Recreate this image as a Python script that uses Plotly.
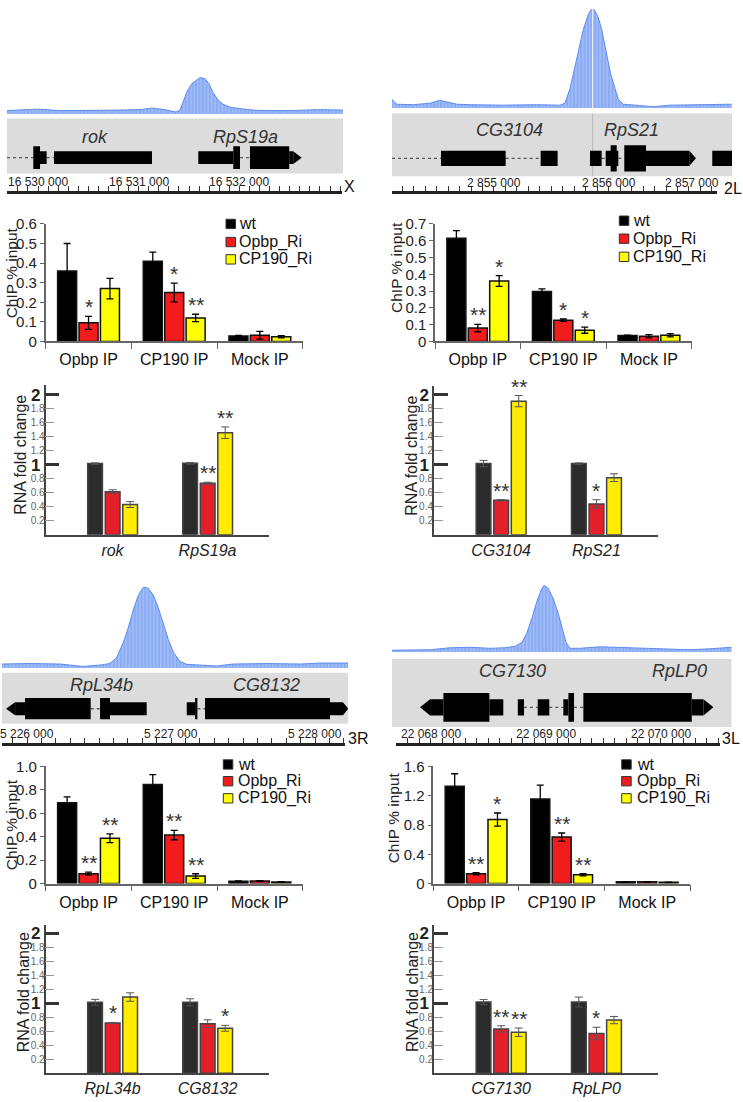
import plotly.graph_objects as go

W, H = 743, 1102
FONT = "Liberation Sans, Arial, Helvetica, sans-serif"

# ======================= DATA =======================
series_names = ["wt", "Opbp_Ri", "CP190_Ri"]
chip_categories = ["Opbp IP", "CP190 IP", "Mock IP"]
rna_major_ticks = [1, 2]
rna_minor_ticks = [0.2, 0.4, 0.6, 0.8, 1.2, 1.4, 1.6, 1.8]

# ---------- panel 1 : chrX, rok / RpS19a ----------
p1_chrom = "X"
p1_region = [16529692, 16533029]
p1_ruler_ticks = [16530000, 16531000, 16532000]
p1_signal_pos = [16529692, 16529821, 16530000, 16530218, 16530417, 16530616, 16530814, 16531013,
                 16531132, 16531261, 16531370, 16531410, 16531430, 16531480, 16531529, 16531579,
                 16531609, 16531658, 16531698, 16531738, 16531787, 16531837, 16531907, 16532006,
                 16532135, 16532304, 16532502, 16532800, 16533029]
p1_signal_val = [3.5, 4, 5, 3.5, 3.5, 3.5, 4, 4.5,
                 6, 4.5, 2, 4, 10, 23, 31, 35,
                 37, 36, 31, 22, 14.5, 10, 7, 5.5,
                 4, 3.5, 3.5, 4.5, 4]
p1_genes = ["rok", "RpS19a"]
p1_gene_label_pos = [16530566, 16532056]
p1_introns = [(16529692, 16529953), (16530086, 16530159), (16532006, 16532105)]
p1_utr = [(16530020, 16530086), (16530159, 16531132), (16531592, 16531939), (16532495, 16532535)]
p1_cds = [(16529953, 16530020), (16531939, 16532006), (16532105, 16532495)]
p1_arrows = [(16532535, 16532619)]

p1_chip_wt = [0.36, 0.41, 0.028]
p1_chip_wt_err = [0.14, 0.046, 0.003]
p1_chip_opbp = [0.095, 0.25, 0.032]
p1_chip_opbp_err = [0.033, 0.048, 0.02]
p1_chip_cp190 = [0.27, 0.12, 0.024]
p1_chip_cp190_err = [0.052, 0.019, 0.006]
p1_chip_opbp_sig = ["*", "*", ""]
p1_chip_cp190_sig = ["", "**", ""]

p1_rna_wt = [1.016, 1.02]
p1_rna_wt_err = [0.01, 0.012]
p1_rna_opbp = [0.614, 0.735]
p1_rna_opbp_err = [0.028, 0.015]
p1_rna_cp190 = [0.431, 1.457]
p1_rna_cp190_err = [0.042, 0.082]
p1_rna_opbp_sig = ["", "**"]
p1_rna_cp190_sig = ["", "**"]

# ---------- panel 2 : chr2L, CG3104 / RpS21 ----------
p2_chrom = "2L"
p2_region = [2854111, 2857075]
p2_ruler_ticks = [2855000, 2856000, 2857000]
p2_signal_pos = [2854111, 2854152, 2854296, 2854442, 2854529, 2854616, 2854675, 2854791,
                 2855081, 2855372, 2855575, 2855619, 2855663, 2855721, 2855779, 2855822,
                 2855840, 2855860, 2855880, 2855909, 2855939, 2855968, 2855988, 2856017,
                 2856055, 2856084, 2856127, 2856244, 2856389, 2856534, 2856825, 2857072]
p2_signal_val = [9, 4, 3.5, 5, 8, 6, 4, 3.5,
                 3, 3.5, 3, 5, 20, 50, 80, 95,
                 99, 101, 99, 92, 80, 63, 50, 35,
                 20, 9, 4, 3, 1.5, 3, 3.5, 4]
p2_genes = ["CG3104", "RpS21"]
p2_gene_label_pos = [2855139, 2856200]
p2_introns = [(2854111, 2854538), (2855102, 2855407), (2855939, 2855974), (2856084, 2856136)]
p2_utr = [(2854538, 2855102), (2855407, 2855555), (2855837, 2855939), (2855974, 2856084),
          (2856325, 2856703), (2856903, 2857075)]
p2_cds = [(2856017, 2856070), (2856136, 2856325)]
p2_arrows = [(2856703, 2856761)]
p2_cursor = 2855860

p2_chip_wt = [0.615, 0.297, 0.035]
p2_chip_wt_err = [0.045, 0.016, 0.003]
p2_chip_opbp = [0.08, 0.127, 0.031]
p2_chip_opbp_err = [0.022, 0.007, 0.01]
p2_chip_cp190 = [0.36, 0.067, 0.037]
p2_chip_cp190_err = [0.032, 0.018, 0.01]
p2_chip_opbp_sig = ["**", "*", ""]
p2_chip_cp190_sig = ["*", "*", ""]

p2_rna_wt = [1.016, 1.016]
p2_rna_wt_err = [0.045, 0.01]
p2_rna_opbp = [0.492, 0.44]
p2_rna_opbp_err = [0.01, 0.06]
p2_rna_cp190 = [1.907, 0.815]
p2_rna_cp190_err = [0.08, 0.055]
p2_rna_opbp_sig = ["**", "*"]
p2_rna_cp190_sig = ["**", ""]

# ---------- panel 3 : chr3R, RpL34b / CG8132 ----------
p3_chrom = "3R"
p3_region = [5225824, 5228231]
p3_ruler_ticks = [5226000, 5227000, 5228000]
p3_signal_pos = [5225824, 5226021, 5226229, 5226389, 5226507, 5226576, 5226623, 5226669,
                 5226703, 5226738, 5226773, 5226808, 5226842, 5226877, 5226912, 5226946,
                 5226981, 5227016, 5227062, 5227109, 5227201, 5227319, 5227430, 5227667,
                 5227896, 5228035, 5228229]
p3_signal_val = [4, 4.5, 4, 1.5, 3, 4.5, 11, 26,
                 41, 59, 74, 82, 81, 74, 61, 46,
                 29, 16, 6.7, 3.7, 3, 2, 4, 4.5,
                 4, 5, 5]
p3_genes = ["RpL34b", "CG8132"]
p3_gene_label_pos = [5226514, 5227664]
p3_introns = [(5226442, 5226507), (5227183, 5227236)]
p3_utr = [(5225917, 5225986), (5226576, 5226831), (5227109, 5227167), (5228104, 5228194)]
p3_cds = [(5225986, 5226442), (5226507, 5226576), (5227167, 5227183), (5227236, 5228104)]
p3_arrows = [(5225917, 5225854), (5228194, 5228231)]

p3_chip_wt = [0.69, 0.845, 0.02]
p3_chip_wt_err = [0.05, 0.085, 0.003]
p3_chip_opbp = [0.085, 0.414, 0.023]
p3_chip_opbp_err = [0.013, 0.04, 0.003]
p3_chip_cp190 = [0.387, 0.064, 0.014]
p3_chip_cp190_err = [0.038, 0.02, 0.003]
p3_chip_opbp_sig = ["**", "**", ""]
p3_chip_cp190_sig = ["**", "**", ""]

p3_rna_wt = [1.014, 1.014]
p3_rna_wt_err = [0.042, 0.05]
p3_rna_opbp = [0.718, 0.709]
p3_rna_opbp_err = [0.008, 0.055]
p3_rna_cp190 = [1.089, 0.643]
p3_rna_cp190_err = [0.06, 0.042]
p3_rna_opbp_sig = ["*", ""]
p3_rna_cp190_sig = ["", "*"]

# ---------- panel 4 : chr3L, CG7130 / RpLP0 ----------
p4_chrom = "3L"
p4_region = [22067663, 22070617]
p4_ruler_ticks = [22068000, 22069000, 22070000]
p4_signal_pos = [22067663, 22067820, 22067994, 22068168, 22068342, 22068516, 22068646, 22068733,
                 22068794, 22068837, 22068881, 22068924, 22068959, 22068985, 22069020, 22069063,
                 22069107, 22069142, 22069176, 22069211, 22069298, 22069472, 22069646, 22069907,
                 22070081, 22070255, 22070429, 22070617]
p4_signal_val = [2, 2, 2.5, 4.5, 5, 4, 4.5, 6,
                 10, 20, 35, 52, 63, 68, 65, 55,
                 40, 25, 10, 4, 4, 5.5, 5, 4,
                 3, 2.5, 3.5, 5]
p4_genes = ["CG7130", "RpLP0"]
p4_gene_label_pos = [22068713, 22070162]
p4_introns = [(22068811, 22068930), (22069031, 22069153), (22069246, 22069327)]
p4_utr = [(22067994, 22068110), (22068510, 22068631), (22068757, 22068811), (22068930, 22069031),
          (22069153, 22069197), (22070270, 22070371)]
p4_cds = [(22068110, 22068510), (22069197, 22069246), (22069327, 22070270)]
p4_arrows = [(22067994, 22067907), (22070371, 22070458)]

p4_chip_wt = [1.33, 1.156, 0.025]
p4_chip_wt_err = [0.17, 0.19, 0.003]
p4_chip_opbp = [0.134, 0.636, 0.025]
p4_chip_opbp_err = [0.015, 0.055, 0.003]
p4_chip_cp190 = [0.874, 0.121, 0.018]
p4_chip_cp190_err = [0.09, 0.015, 0.003]
p4_chip_opbp_sig = ["**", "**", ""]
p4_chip_cp190_sig = ["*", "**", ""]

p4_rna_wt = [1.018, 1.018]
p4_rna_wt_err = [0.035, 0.07]
p4_rna_opbp = [0.634, 0.568]
p4_rna_opbp_err = [0.045, 0.09]
p4_rna_cp190 = [0.587, 0.76]
p4_rna_cp190_err = [0.06, 0.052]
p4_rna_opbp_sig = ["**", "*"]
p4_rna_cp190_sig = ["**", ""]

# ======================= STYLE / LAYOUT HELPERS =======================
CHIP_COLORS = ["#000000", "#f21c1c", "#ffff00"]
RNA_COLORS = ["#2b2b2b", "#e3202a", "#ffec00"]
CHIP_W, CHIP_OFF = 0.222, [-0.361, -0.111, 0.139]
RNA_W, RNA_OFF = 0.155, [-0.261, -0.076, 0.108]
AX = "#666666"

fig = go.Figure()
layout = dict(width=W, height=H, margin=dict(l=0, r=0, t=0, b=0, pad=0),
              paper_bgcolor="white", plot_bgcolor="rgba(0,0,0,0)",
              showlegend=False, barmode="overlay",
              font=dict(family=FONT, color="#222"))
shapes, annos = [], []
cnt = {"x": 0, "y": 0}


def new_axis(letter, **kw):
    cnt[letter] += 1
    n = cnt[letter]
    layout[letter + "axis" + ("" if n == 1 else str(n))] = kw
    return letter if n == 1 else letter + str(n)


def ax(ref):
    return layout[ref[0] + "axis" + ref[1:]]


def dummy(xr, yr, x, y):
    fig.add_trace(go.Scatter(x=[x], y=[y], xaxis=xr, yaxis=yr, mode="markers",
                             marker=dict(opacity=0, size=1), hoverinfo="skip", showlegend=False))


def xdom(a, b):
    return [a / W, b / W]


def ydom(top, bot):
    return [1 - bot / H, 1 - top / H]


def fmt_bp(v):
    return f"{v:,}".replace(",", " ")


def genome_panel(region, ruler_ticks, sig_pos, sig_val, genes, gene_pos, introns, utr, cds,
                 arrows, chrom, g, cursor=None):
    L, R = region
    mx0, mx1 = g["main"]
    rx0, rx1 = g["ruler"]
    scale = (R - L) / (mx1 - mx0)
    rr = [L + (rx0 - mx0) * scale, L + (rx1 - mx0) * scale]
    st, sb = g["sig"]
    gt, gb = g["gene"]
    xm = new_axis("x", domain=xdom(mx0, mx1), range=[L, R], visible=False, fixedrange=True)
    xr = new_axis("x", domain=xdom(rx0, rx1), range=rr, showline=True, linecolor="#222",
                  linewidth=2.5, ticks="inside", tick0=0, dtick=100, ticklen=5, tickwidth=1,
                  tickcolor="#333", showticklabels=False, showgrid=False, zeroline=False,
                  fixedrange=True)
    ys = new_axis("y", domain=ydom(st, sb), range=[0, sb - st], visible=False, fixedrange=True)
    yg = new_axis("y", domain=ydom(gt, gb), range=[0, gb - gt], visible=False, fixedrange=True)
    ax(xm)["anchor"] = ys
    ax(xr)["anchor"] = yg
    ax(ys)["anchor"] = xm
    ax(yg)["anchor"] = xr
    fig.add_trace(go.Scatter(x=sig_pos, y=sig_val, xaxis=xm, yaxis=ys, mode="lines",
                             line=dict(color="#5b8cf0", width=1), fill="tozeroy",
                             fillcolor="#8aacf5",
                             fillpattern=dict(shape="|", bgcolor="#8aacf5", fgcolor="#d4e0fc",
                                              size=3.5, solidity=0.3),
                             hoverinfo="skip", showlegend=False))
    dummy(xm, yg, L, 0)
    dummy(xr, yg, rr[0], 0)

    def gy(p):
        return gb - p
    c = gy(g["center"])
    hs, ht = g["short"], g["tall"]
    bt, bbm = g["box"]
    shapes.append(dict(type="rect", xref=xm, yref=yg, x0=L, x1=R, y0=gy(bbm), y1=gy(bt),
                       fillcolor="#dcdcdc", line=dict(width=0), layer="below"))
    if cursor is not None:
        shapes.append(dict(type="line", xref=xm, yref=ys, x0=cursor, x1=cursor, y0=0,
                           y1=sb - st, line=dict(color="rgba(255,255,255,0.85)", width=1)))
        shapes.append(dict(type="line", xref=xm, yref=yg, x0=cursor, x1=cursor, y0=gy(bbm),
                           y1=gy(bt), line=dict(color="#b8b8b8", width=1)))
    for a, b in introns:
        shapes.append(dict(type="line", xref=xm, yref=yg, x0=a, x1=b, y0=c, y1=c,
                           line=dict(color="#555", width=1.3, dash="dot")))
    for a, b in utr:
        shapes.append(dict(type="rect", xref=xm, yref=yg, x0=a, x1=b, y0=c - hs, y1=c + hs,
                           fillcolor="#000", line=dict(width=0)))
    for a, b in cds:
        shapes.append(dict(type="rect", xref=xm, yref=yg, x0=a, x1=b, y0=c - ht, y1=c + ht,
                           fillcolor="#000", line=dict(width=0)))
    for a, b in arrows:
        shapes.append(dict(type="path", xref=xm, yref=yg,
                           path=f"M {a},{c + hs} L {b},{c} L {a},{c - hs} Z",
                           fillcolor="#000", line=dict(width=0)))
    for name, pos in zip(genes, gene_pos):
        annos.append(dict(x=pos, y=gy(g["label"]), xref=xm, yref=yg, text=f"<i>{name}</i>",
                          showarrow=False, font=dict(size=18, color="#333"),
                          xanchor="center", yanchor="middle"))
    for i, t in enumerate(ruler_ticks):
        anchor = "center"
        shift = 0
        if g.get("clamp_last") and i == len(ruler_ticks) - 1:
            anchor, shift = "right", g["clamp_last"]
        annos.append(dict(x=t, y=gy(g["rlabel"]), xref=xm, yref=yg, text=fmt_bp(t),
                          showarrow=False, font=dict(size=12, color="#222"),
                          xanchor=anchor, xshift=shift, yanchor="middle"))
    cx, cy = g["chrom"]
    annos.append(dict(x=cx / W, y=1 - cy / H, xref="paper", yref="paper", text=chrom,
                      showarrow=False, font=dict(size=16, color="#111"),
                      xanchor="center", yanchor="middle"))


def stars(xr, yr, off, w, vals, errs, sigs, size=21):
    for j, s in enumerate(sigs):
        if s:
            annos.append(dict(x=j + off + w / 2, y=vals[j] + errs[j], xref=xr, yref=yr, text=s,
                              showarrow=False, font=dict(size=size, color="#333"),
                              xanchor="center", yanchor="bottom", yshift=-4))


def chip_chart(box, yrange, ytv, ytt, vals, errs, sigs, leg, title_xy):
    x0, x1, y0, y1 = box
    xr = new_axis("x", domain=xdom(x0, x1), type="category", categoryorder="array",
                  categoryarray=chip_categories, range=[-0.5, 2.5], showline=True, linecolor=AX,
                  linewidth=1.5, ticks="outside", tickson="boundaries", ticklen=6, tickwidth=1.2,
                  tickcolor=AX, tickfont=dict(size=16, color="#111"), ticklabelstandoff=3,
                  showgrid=False, zeroline=False, fixedrange=True)
    yr = new_axis("y", domain=ydom(y0, y1), range=yrange, showline=True, linecolor=AX,
                  linewidth=1.5, ticks="outside", ticklen=4, tickwidth=1.2, tickcolor=AX,
                  tickvals=ytv, ticktext=ytt, tickfont=dict(size=15, color="#222"),
                  showgrid=False, zeroline=False, fixedrange=True)
    ax(xr)["anchor"] = yr
    ax(yr)["anchor"] = xr
    for i in range(3):
        fig.add_trace(go.Bar(x=chip_categories, y=vals[i], name=series_names[i],
                             width=CHIP_W, offset=CHIP_OFF[i], xaxis=xr, yaxis=yr,
                             marker=dict(color=CHIP_COLORS[i], line=dict(color="#111", width=1.5)),
                             error_y=dict(type="data", array=errs[i], color="#000",
                                          thickness=1.3, width=3.5),
                             showlegend=False, hoverinfo="skip"))
    for i in (1, 2):
        stars(xr, yr, CHIP_OFF[i], CHIP_W, vals[i], errs[i], sigs[i - 1])
    sq, tx, rows = leg
    for i, yc in enumerate(rows):
        shapes.append(dict(type="rect", xref="paper", yref="paper", x0=sq / W, x1=(sq + 9.5) / W,
                           y0=1 - (yc + 4.75) / H, y1=1 - (yc - 4.75) / H,
                           fillcolor=CHIP_COLORS[i], line=dict(color="#333", width=1)))
        annos.append(dict(x=tx / W, y=1 - yc / H, xref="paper", yref="paper",
                          text=series_names[i], showarrow=False,
                          font=dict(size=16, color="#111"), xanchor="left", yanchor="middle"))
    annos.append(dict(x=title_xy[0] / W, y=1 - title_xy[1] / H, xref="paper", yref="paper",
                      text="ChIP % input", textangle=-90, showarrow=False,
                      font=dict(size=15.5, color="#222"), xanchor="center", yanchor="middle"))


def rna_chart(box, genes, vals, errs, sigs, title_xy):
    x0, x1, y0, y1 = box
    ytop = (y1 - y0) / 71.15
    xr = new_axis("x", domain=xdom(x0, x1), type="category", categoryorder="array",
                  categoryarray=genes, range=[-0.703, 1.65], showline=True, linecolor="#444",
                  linewidth=1.5, ticks="", tickvals=genes,
                  ticktext=[f"<i>{gname}</i>" for gname in genes],
                  tickfont=dict(size=16, color="#222"), showgrid=False, zeroline=False,
                  fixedrange=True)
    yr = new_axis("y", domain=ydom(y0, y1), range=[0, ytop], showline=True, linecolor="#444",
                  linewidth=1.5, ticks="inside", tickvals=rna_major_ticks,
                  ticktext=[f"<b>{v}</b>" for v in rna_major_ticks], ticklen=14, tickwidth=2.5,
                  tickcolor="#333", tickfont=dict(size=17, color="#222"),
                  minor=dict(tick0=0, dtick=0.2, ticks="inside", ticklen=9, tickwidth=1,
                             tickcolor="#999"),
                  showgrid=False, zeroline=False, fixedrange=True)
    yo = new_axis("y", overlaying=yr, range=[0, ytop], side="left", tickvals=rna_minor_ticks,
                  ticktext=[f"{v:.1f}" for v in rna_minor_ticks], ticks="", showline=False,
                  tickfont=dict(size=10, color="#666"), showgrid=False, zeroline=False,
                  fixedrange=True)
    ax(xr)["anchor"] = yr
    ax(yr)["anchor"] = xr
    ax(yo)["anchor"] = xr
    for i in range(3):
        fig.add_trace(go.Bar(x=genes, y=vals[i], name=series_names[i], width=RNA_W,
                             offset=RNA_OFF[i], xaxis=xr, yaxis=yr,
                             marker=dict(color=RNA_COLORS[i], line=dict(color="#444", width=1.5)),
                             error_y=dict(type="data", array=errs[i], color="#555",
                                          thickness=1, width=4),
                             showlegend=False, hoverinfo="skip"))
    dummy(xr, yo, genes[0], 0)
    for i in (1, 2):
        stars(xr, yr, RNA_OFF[i], RNA_W, vals[i], errs[i], sigs[i - 1])
    annos.append(dict(x=title_xy[0] / W, y=1 - title_xy[1] / H, xref="paper", yref="paper",
                      text="RNA fold change", textangle=-90, showarrow=False,
                      font=dict(size=16, color="#222"), xanchor="center", yanchor="middle"))


# ======================= BUILD =======================
genome_panel(p1_region, p1_ruler_ticks, p1_signal_pos, p1_signal_val, p1_genes, p1_gene_label_pos,
             p1_introns, p1_utr, p1_cds, p1_arrows, p1_chrom,
             dict(main=(7, 343), ruler=(7, 342), sig=(60, 106.7), gene=(111, 185), box=(111, 167),
                  center=151, short=6.5, tall=11.5, label=130, rlabel=176, chrom=(349, 180)))
genome_panel(p2_region, p2_ruler_ticks, p2_signal_pos, p2_signal_val, p2_genes, p2_gene_label_pos,
             p2_introns, p2_utr, p2_cds, p2_arrows, p2_chrom,
             dict(main=(392, 732), ruler=(392, 717), sig=(0, 100.7), gene=(106, 185),
                  box=(106, 170), center=151.7, short=7.8, tall=13.3, label=123, rlabel=176.7,
                  chrom=(733, 182.7), clamp_last=-2), cursor=p2_cursor)
genome_panel(p3_region, p3_ruler_ticks, p3_signal_pos, p3_signal_val, p3_genes, p3_gene_label_pos,
             p3_introns, p3_utr, p3_cds, p3_arrows, p3_chrom,
             dict(main=(1.7, 348.3), ruler=(1.7, 345), sig=(578, 669.3), gene=(674, 745),
                  box=(674, 726), center=710.7, short=6.7, tall=10.8, label=686.7, rlabel=736.5,
                  chrom=(357.5, 741)))
genome_panel(p4_region, p4_ruler_ticks, p4_signal_pos, p4_signal_val, p4_genes, p4_gene_label_pos,
             p4_introns, p4_utr, p4_cds, p4_arrows, p4_chrom,
             dict(main=(392, 731.7), ruler=(396, 720), sig=(578, 653.3), gene=(660, 745),
                  box=(660, 729.3), center=709.3, short=8.3, tall=14.5, label=672.7,
                  rlabel=736.5, chrom=(731.3, 741)))

chip_chart((45.7, 302.7, 218.3, 337.7), [0, 0.6], [0, 0.1, 0.2, 0.3, 0.4, 0.5, 0.6],
           ["0", "0.1", "0.2", "0.3", "0.4", "0.5", "0.6"],
           [p1_chip_wt, p1_chip_opbp, p1_chip_cp190],
           [p1_chip_wt_err, p1_chip_opbp_err, p1_chip_cp190_err],
           [p1_chip_opbp_sig, p1_chip_cp190_sig],
           (226, 237.3, [218.3, 236.7, 254.3]), (11, 268.5))
chip_chart((435, 691.7, 218.3, 337.7), [0, 0.7], [0, 0.1, 0.2, 0.3, 0.4, 0.5, 0.6, 0.7],
           ["0", "0.1", "0.2", "0.3", "0.4", "0.5", "0.6", "0.7"],
           [p2_chip_wt, p2_chip_opbp, p2_chip_cp190],
           [p2_chip_wt_err, p2_chip_opbp_err, p2_chip_cp190_err],
           [p2_chip_opbp_sig, p2_chip_cp190_sig],
           (619.3, 630.7, [215, 233.3, 251.7]), (396.7, 262.3))
chip_chart((45.7, 302.7, 769.3, 888.3), [0, 1.0], [0, 0.2, 0.4, 0.6, 0.8, 1.0],
           ["0", "0.2", "0.4", "0.6", "0.8", "1.0"],
           [p3_chip_wt, p3_chip_opbp, p3_chip_cp190],
           [p3_chip_wt_err, p3_chip_opbp_err, p3_chip_cp190_err],
           [p3_chip_opbp_sig, p3_chip_cp190_sig],
           (223.3, 236, [767.3, 784.3, 801.7]), (11, 829))
chip_chart((433.3, 690, 769.3, 888.3), [0, 1.6], [0, 0.4, 0.8, 1.2, 1.6],
           ["0", "0.4", "0.8", "1.2", "1.6"],
           [p4_chip_wt, p4_chip_opbp, p4_chip_cp190],
           [p4_chip_wt_err, p4_chip_opbp_err, p4_chip_cp190_err],
           [p4_chip_opbp_sig, p4_chip_cp190_sig],
           (621.7, 635, [767.3, 784.3, 801.7]), (393.3, 821.7))

rna_chart((45.7, 269.3, 381.7, 534), p1_genes, [p1_rna_wt, p1_rna_opbp, p1_rna_cp190],
          [p1_rna_wt_err, p1_rna_opbp_err, p1_rna_cp190_err],
          [p1_rna_opbp_sig, p1_rna_cp190_sig], (20.3, 452.5))
rna_chart((434, 658.3, 383.3, 534), p2_genes, [p2_rna_wt, p2_rna_opbp, p2_rna_cp190],
          [p2_rna_wt_err, p2_rna_opbp_err, p2_rna_cp190_err],
          [p2_rna_opbp_sig, p2_rna_cp190_sig], (411.7, 454))
rna_chart((45.7, 269.3, 930, 1081), p3_genes, [p3_rna_wt, p3_rna_opbp, p3_rna_cp190],
          [p3_rna_wt_err, p3_rna_opbp_err, p3_rna_cp190_err],
          [p3_rna_opbp_sig, p3_rna_cp190_sig], (23.7, 999))
rna_chart((434, 658.3, 930, 1081), p4_genes, [p4_rna_wt, p4_rna_opbp, p4_rna_cp190],
          [p4_rna_wt_err, p4_rna_opbp_err, p4_rna_cp190_err],
          [p4_rna_opbp_sig, p4_rna_cp190_sig], (412.5, 999))

layout["shapes"] = shapes
layout["annotations"] = annos
fig.update_layout(**layout)
fig.write_html("out.html", config={"displayModeBar": False},
               post_script="document.body.style.margin='0px';document.body.style.padding='0px';"
                           "document.body.style.overflow='hidden';")
